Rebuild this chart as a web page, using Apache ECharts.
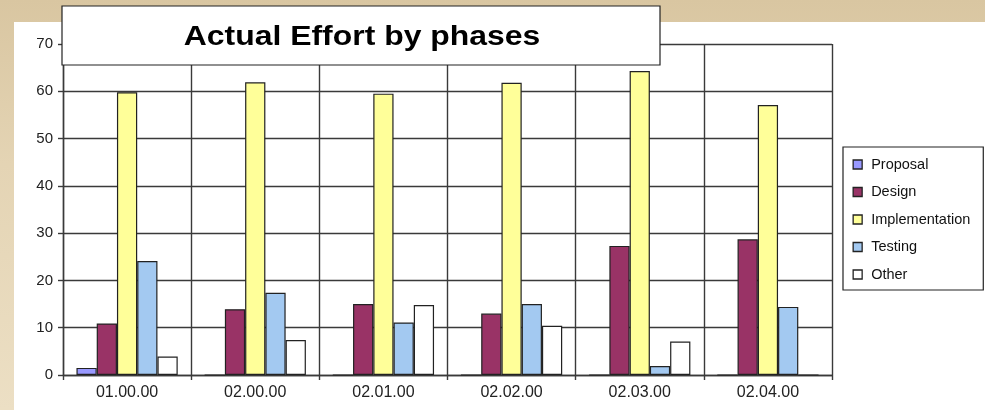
<!DOCTYPE html>
<html>
<head>
<meta charset="utf-8">
<title>Actual Effort by phases</title>
<script src="https://cdn.jsdelivr.net/npm/echarts@6/dist/echarts.min.js"></script>
<style>
  html, body { margin: 0; padding: 0; }
  body {
    width: 985px; height: 410px; overflow: hidden;
    background: linear-gradient(to bottom, #d9c6a1 0%, #e4d4b4 40%, #ecdfc4 100%);
  }
  #wrap { position: relative; width: 985px; height: 410px; }
  #panel { position: absolute; left: 14px; top: 22px; right: 0; bottom: 0; background: #ffffff; }
  #chart { position: absolute; left: 0; top: 0; width: 985px; height: 410px; }
</style>
</head>
<body>
<div id="wrap">
  <div id="panel"></div>
  <div id="chart"></div>
</div>
<script>
// Project releases on the category axis
const categories = ['01.00.00', '02.00.00', '02.01.00', '02.02.00', '02.03.00', '02.04.00'];

// Effort per phase, one array per series
const proposal       = [1.5, 0, 0, 0, 0, 0];
const design         = [10.9, 13.9, 15.0, 13.0, 27.3, 28.7];
const implementation = [59.8, 61.9, 59.5, 61.8, 64.3, 57.1];
const testing        = [24.1, 17.4, 11.1, 15.0, 1.9, 14.4];
const other          = [3.9, 7.4, 14.8, 10.4, 7.1, 0];

// Value axis ticks
const yTicks = { min: 0, max: 70, interval: 10 };

const titleText = 'Actual Effort by phases';
const FONT = '"Liberation Sans", Arial, sans-serif';
const LINE = '#3a3a3a';

const phases = [
  { name: 'Proposal',       data: proposal,       color: '#9999ff' },
  { name: 'Design',         data: design,         color: '#993366' },
  { name: 'Implementation', data: implementation, color: '#ffff99' },
  { name: 'Testing',        data: testing,        color: '#a3c9f1' },
  { name: 'Other',          data: other,          color: '#ffffff' }
];

const chart = echarts.init(document.getElementById('chart'), null, { renderer: 'canvas' });

chart.setOption({
  animation: false,
  backgroundColor: 'transparent',
  grid: { left: 63, right: 153, top: 44, bottom: 35, containLabel: false },
  xAxis: {
    type: 'category',
    data: categories,
    boundaryGap: true,
    axisLine: { show: true, lineStyle: { color: LINE, width: 1.4 } },
    axisTick: { show: true, length: 5, inside: false, lineStyle: { color: LINE, width: 1.4 } },
    splitLine: { show: true, lineStyle: { color: LINE, width: 1.4, type: 'solid' } },
    axisLabel: { fontFamily: FONT, fontSize: 16, color: '#222', margin: 10 }
  },
  yAxis: {
    type: 'value',
    min: yTicks.min,
    max: yTicks.max,
    interval: yTicks.interval,
    axisLine: { show: true, lineStyle: { color: LINE, width: 1.4 } },
    axisTick: { show: true, length: 5, inside: false, lineStyle: { color: LINE, width: 1.4 } },
    splitLine: { show: true, lineStyle: { color: LINE, width: 1.4, type: 'solid' } },
    axisLabel: { fontFamily: FONT, fontSize: 15, color: '#222', margin: 10 }
  },
  legend: {
    orient: 'vertical',
    left: 843,
    top: 147,
    padding: [10, 13, 8, 9.5],
    itemWidth: 9,
    itemHeight: 9,
    itemGap: 12.5,
    icon: 'rect',
    backgroundColor: '#ffffff',
    borderColor: '#222',
    borderWidth: 1.2,
    itemStyle: { borderColor: '#222', borderWidth: 1.3 },
    textStyle: { fontFamily: FONT, fontSize: 14.5, color: '#111', lineHeight: 14, padding: [0, 0, 0, 4] },
    data: phases.map(p => p.name)
  },
  graphic: [
    {
      type: 'rect',
      z: 100,
      shape: { x: 62, y: 6, width: 598, height: 59 },
      style: { fill: '#ffffff', stroke: '#222', lineWidth: 1.2 }
    },
    {
      type: 'text',
      z: 101,
      x: 362,
      y: 37,
      scaleX: 1.14,
      style: {
        x: 0, y: 0,
        text: titleText,
        fill: '#000',
        font: 'bold 28px ' + FONT,
        textAlign: 'center',
        textVerticalAlign: 'middle'
      }
    }
  ],
  series: phases.map(p => ({
    name: p.name,
    type: 'bar',
    data: p.data,
    barGap: '0%',
    barCategoryGap: '21%',
    itemStyle: { color: p.color, borderColor: '#222', borderWidth: 1.2 }
  }))
});
</script>
</body>
</html>
